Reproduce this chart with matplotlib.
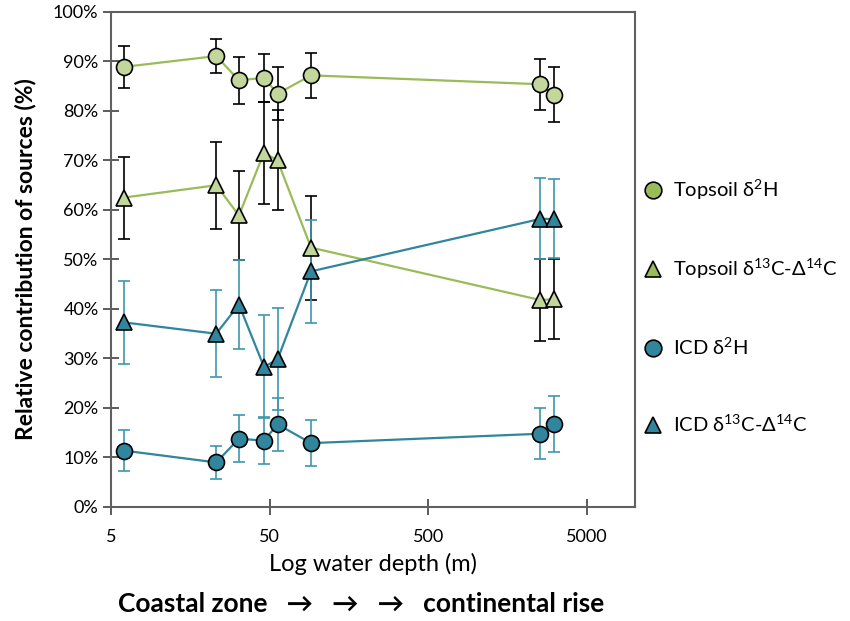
import matplotlib.pyplot as plt
from matplotlib.lines import Line2D
import matplotlib.ticker as mticker

plt.rcParams['font.family'] = ['Lato', 'DejaVu Sans']
plt.rcParams['mathtext.fontset'] = 'custom'
plt.rcParams['mathtext.rm'] = 'Lato'
plt.rcParams['mathtext.default'] = 'regular'

# water depth (m)
depth = [6, 23, 32, 46, 56, 91, 2540, 3070]

# relative contribution (%) and error (%)
top_h = [88.9, 91.1, 86.2, 86.7, 83.5, 87.2, 85.4, 83.3]
top_h_err = [4.2, 3.4, 4.8, 4.8, 5.4, 4.6, 5.1, 5.5]

top_c = [62.5, 65.0, 58.9, 71.6, 70.0, 52.4, 41.8, 42.0]
top_c_err = [8.3, 8.8, 9.0, 10.3, 10.1, 10.5, 8.2, 8.0]

icd_h = [11.4, 9.0, 13.8, 13.4, 16.7, 12.9, 14.8, 16.8]
icd_h_err = [4.2, 3.4, 4.8, 4.7, 5.3, 4.6, 5.1, 5.6]

icd_c = [37.3, 35.0, 40.9, 28.3, 29.8, 47.6, 58.2, 58.2]
icd_c_err = [8.4, 8.8, 9.0, 10.4, 10.3, 10.4, 8.2, 8.0]

green_line = '#9BBB59'
green_fill = '#C3D69B'
teal = '#31859C'
teal_bar = '#3F97AE'

fig = plt.figure(figsize=(8.5, 6.21), dpi=100)
ax = fig.add_axes([0.1306, 0.1836, 0.6164, 0.7971])

common = dict(capsize=4.5, elinewidth=1.2, capthick=1.2, markeredgecolor='black',
              markeredgewidth=1.2, linewidth=1.6)

ax.errorbar(depth, top_h, yerr=top_h_err, fmt='-o', color=green_line, ecolor='black',
            markerfacecolor=green_fill, markersize=11.5, **common)
ax.errorbar(depth, top_c, yerr=top_c_err, fmt='-^', color=green_line, ecolor='black',
            markerfacecolor=green_fill, markersize=12, **common)
ax.errorbar(depth, icd_h, yerr=icd_h_err, fmt='-o', color=teal, ecolor=teal_bar,
            markerfacecolor=teal, markersize=11.5, **common)
ax.errorbar(depth, icd_c, yerr=icd_c_err, fmt='-^', color=teal, ecolor=teal_bar,
            markerfacecolor=teal, markersize=12, **common)

ax.set_xscale('log')
ax.set_xlim(5, 10000)
ax.set_ylim(0, 100)
ax.set_xticks([5, 50, 500, 5000])
ax.xaxis.set_major_formatter(mticker.FixedFormatter(['5', '50', '500', '5000']))
ax.xaxis.set_minor_locator(mticker.NullLocator())
ax.set_yticks(range(0, 101, 10))
ax.set_yticklabels([f'{v}%' for v in range(0, 101, 10)])
ax.tick_params(direction='inout', length=11, width=1.2, colors='#404040',
               labelcolor='black', labelsize=13)
ax.tick_params(axis='x', pad=10)
for s in ax.spines.values():
    s.set_color('#606060')
    s.set_linewidth(1.5)

ax.set_ylabel('Relative contribution of sources (%)', fontsize=16.5, fontweight='bold',
              labelpad=12)
ax.set_xlabel('Log water depth (m)', fontsize=17, labelpad=6)

fig.text(0.425, 0.027, 'Coastal zone   \u2192   \u2192   \u2192   continental rise',
         ha='center', va='center', fontsize=19, fontweight='bold')

handles = [
    Line2D([], [], ls='none', marker='o', markersize=12, markerfacecolor=green_line,
           markeredgecolor='black', markeredgewidth=1.2),
    Line2D([], [], ls='none', marker='^', markersize=12, markerfacecolor=green_line,
           markeredgecolor='black', markeredgewidth=1.2),
    Line2D([], [], ls='none', marker='o', markersize=12, markerfacecolor=teal,
           markeredgecolor='black', markeredgewidth=1.2),
    Line2D([], [], ls='none', marker='^', markersize=12, markerfacecolor=teal,
           markeredgecolor='black', markeredgewidth=1.2),
]
labels = ['Topsoil \u03b4$^{2}$H', 'Topsoil \u03b4$^{13}$C-\u0394$^{14}$C',
          'ICD \u03b4$^{2}$H', 'ICD \u03b4$^{13}$C-\u0394$^{14}$C']
fig.legend(handles, labels, loc='center left', bbox_to_anchor=(0.742, 0.507),
           frameon=False, fontsize=14.5, labelspacing=2.75, handletextpad=0.5,
           handlelength=1.0, borderaxespad=0.2)

fig.savefig('out.png', dpi=100)
